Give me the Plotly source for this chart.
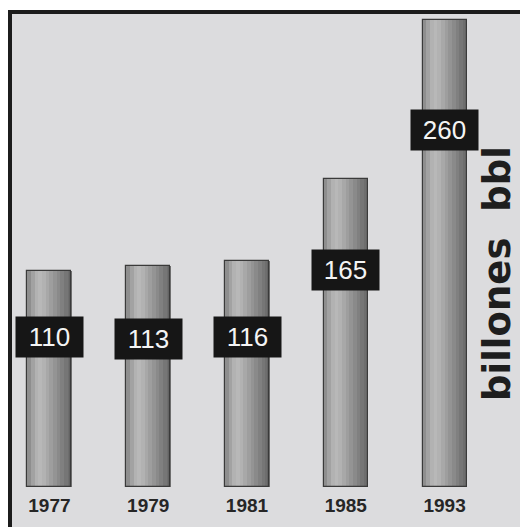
import plotly.graph_objects as go

# Proven reserves, billions of barrels
years = ["1977", "1979", "1981", "1985", "1993"]
reserves = [110, 113, 116, 165, 260]

# vertical placement of the value tags (data units)
tag_y = [70.5, 69.5, 70.5, 110.5, 194.0]

W, H = 520, 527
M_L, M_R, M_T, M_B = 0, 26, 14, 40
Y_RANGE = [-19.0, 263.6]
BAR_BASE = Y_RANGE[0]   # bars stand on a pedestal below zero
BAR_W = 0.445

plot_w = W - M_L - M_R
plot_h = H - M_T - M_B


def px_x(px):
    return (px - M_L) / plot_w


def px_y(py):
    return (H - M_B - py) / plot_h


# bar length measured from the pedestal, so each top sits at its value
heights = [v - BAR_BASE for v in reserves]

# horizontal shading across each bar (left -> right)
shade = ["#8e8e8e", "#a2a2a2", "#b2b2b2", "#b8b8b8", "#b2b2b2", "#a8a8a8",
         "#9e9e9e", "#949494", "#8a8a8a", "#808080", "#767676", "#6e6e6e"]

fig = go.Figure()
n = len(shade)
step = BAR_W / n
for i, c in enumerate(shade):
    fig.add_trace(go.Bar(
        x=years, y=heights, base=[BAR_BASE] * len(years),
        width=step * 1.15, offset=-BAR_W / 2 + i * step,
        marker=dict(color=c, line=dict(width=0)),
        hoverinfo="skip", showlegend=False,
    ))

# thin dark outline around each bar
fig.add_trace(go.Bar(
    x=years, y=heights, base=[BAR_BASE] * len(years), width=BAR_W, offset=-BAR_W / 2,
    marker=dict(color="rgba(0,0,0,0)", line=dict(color="#3a3a3a", width=1.2)),
    hoverinfo="skip", showlegend=False,
))

# value tags: black boxes with white numerals
for i, (v, ty) in enumerate(zip(reserves, tag_y)):
    fig.add_annotation(
        x=i, y=ty, xref="x", yref="y", text=str(v), showarrow=False,
        xanchor="center", yanchor="middle",
        font=dict(family="Liberation Sans, Arial, sans-serif", size=26, color="#f4f4f4"),
        bgcolor="#161616", width=67, height=40, borderpad=0, align="center",
    )

# vertical unit label on the right
fig.add_annotation(
    x=px_x(497), y=px_y(274), xref="paper", yref="paper",
    xanchor="center", yanchor="middle",
    text="billones\u00a0 bbl", showarrow=False, textangle=-90,
    font=dict(family="DejaVu Sans, sans-serif", size=37, color="#1e1e1e", weight="bold"),
)

# grey panel and its dark top/left border
fig.add_shape(type="rect", xref="paper", yref="paper",
              x0=px_x(8), x1=px_x(W + 5), y0=px_y(H + 5), y1=px_y(10),
              fillcolor="#dcdcde", line=dict(width=0), layer="below")
fig.add_shape(type="rect", xref="paper", yref="paper",
              x0=px_x(8), x1=px_x(W + 5), y0=px_y(14), y1=px_y(10),
              fillcolor="#1c1c1c", line=dict(width=0), layer="below")
fig.add_shape(type="rect", xref="paper", yref="paper",
              x0=px_x(8), x1=px_x(12), y0=px_y(H + 5), y1=px_y(10),
              fillcolor="#1c1c1c", line=dict(width=0), layer="below")

fig.update_layout(
    width=W, height=H,
    margin=dict(l=M_L, r=M_R, t=M_T, b=M_B, autoexpand=False),
    paper_bgcolor="white", plot_bgcolor="rgba(0,0,0,0)",
    barmode="overlay", bargap=0,
    xaxis=dict(
        type="category", range=[-0.5, len(years) - 0.5], autorange=False,
        showgrid=False, zeroline=False, showline=False,
        ticks="outside", ticklen=1, tickcolor="rgba(0,0,0,0)",
        tickfont=dict(family="Liberation Sans, Arial, sans-serif", size=19, color="#262626", weight="bold"),
        fixedrange=True, automargin=False,
    ),
    yaxis=dict(range=Y_RANGE, autorange=False, visible=False, fixedrange=True, automargin=False),
    showlegend=False,
)

fig.write_html("out.html")
